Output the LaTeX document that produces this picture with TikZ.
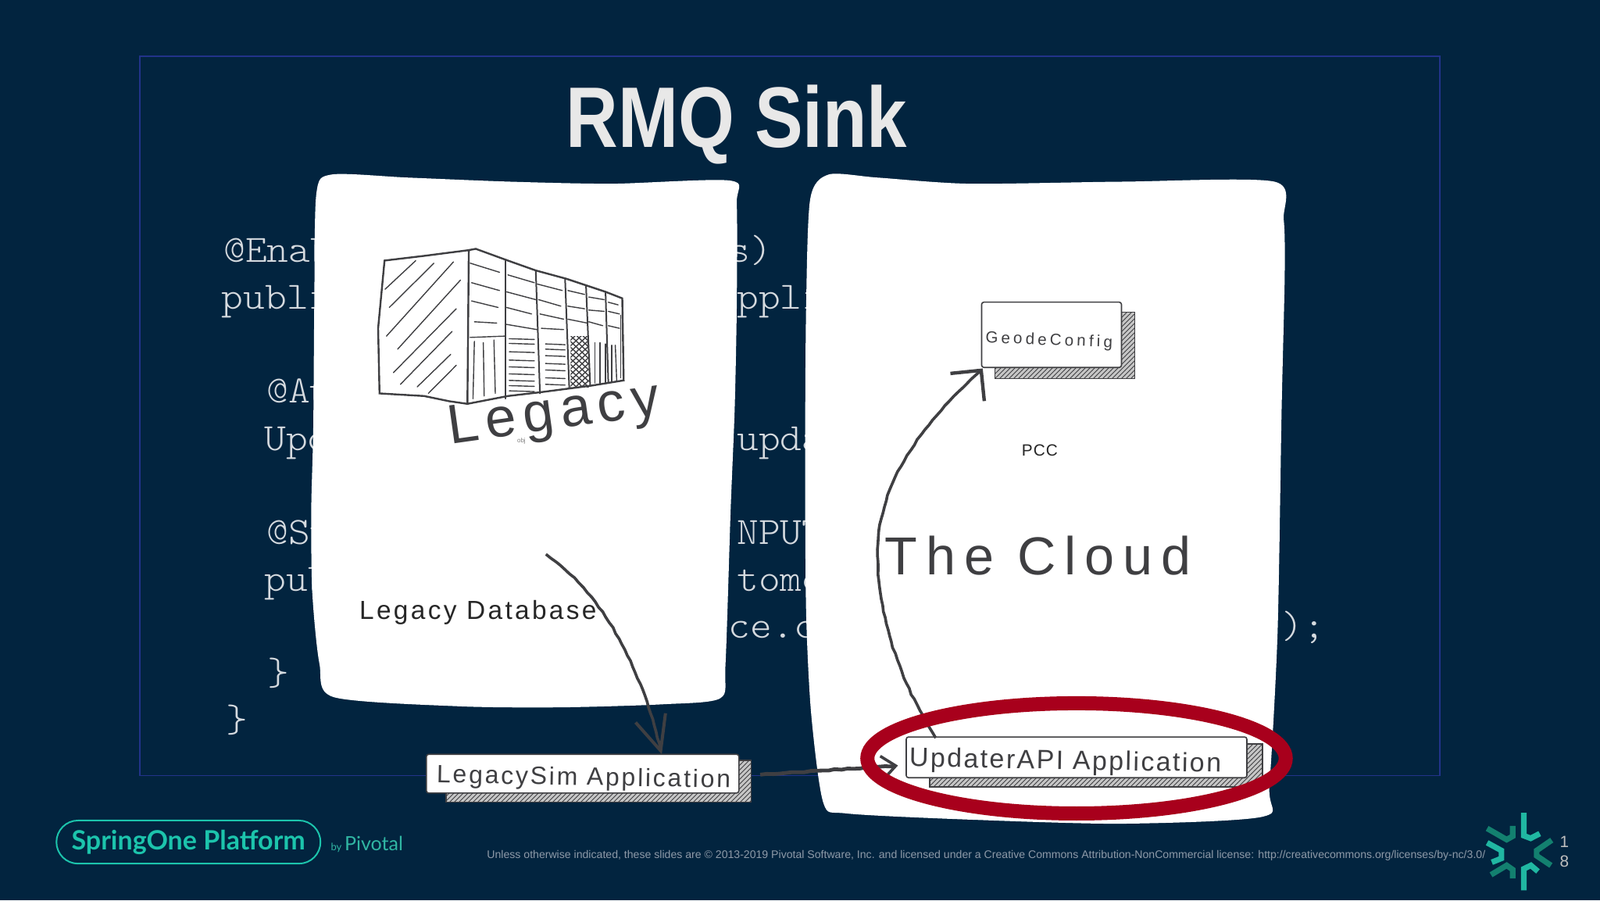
\documentclass[tikz,border=0pt]{standalone}
\usepackage{fontspec}
\setmainfont{Liberation Sans}
\newfontfamily\logofont{Lato}
\newfontfamily\codefont[FakeStretch=1.07]{Latin Modern Mono Light}
\usetikzlibrary{arrows.meta,patterns,decorations.pathmorphing}
\definecolor{slidebg}{HTML}{02243F}
\definecolor{framecol}{HTML}{22338A}
\definecolor{codecol}{HTML}{D5DADF}
\definecolor{inkcol}{HTML}{3F3F42}
\definecolor{ringcol}{HTML}{A8001C}
\definecolor{springcol}{HTML}{1CC4AC}
\definecolor{logodark}{HTML}{13806F}
\definecolor{logolight}{HTML}{20B7A2}
\definecolor{footcol}{HTML}{8E9AA8}
\tikzset{
  codetext/.style={anchor=base west,inner sep=0,text=codecol,font=\fontsize{24.7}{24.7}\selectfont\codefont},
  sheet/.style={fill=white},
  inkline/.style={draw=inkcol,line width=1pt,line cap=round},
  inkthin/.style={draw=inkcol,line width=.7pt,line cap=round},
  scrawl/.style={draw=inkcol,line width=1.8pt,decorate,decoration={random steps,segment length=4pt,amplitude=.35pt}},
  spaced/.style n args={2}{inner sep=0,text=inkcol,font=\fontsize{#1}{#1}\selectfont\addfontfeature{LetterSpace=#2}},
  appbox/.style={draw=inkcol,fill=white,line width=.8pt,rounded corners=1.5pt,inner sep=0},
  appshadow/.style={draw=inkcol,line width=.8pt,preaction={fill=gray!45},pattern=north east lines,pattern color=inkcol},
  logoarm/.style={line width=3.6pt,line join=miter},
}
\begin{document}
\begin{tikzpicture}[x=0.65306pt,y=-0.65306pt]
\useasboundingbox (0,0) rectangle (1568,882);
\fill[slidebg] (0,0) rectangle (1568,882);
\draw[framecol,line width=.7pt] (137,55) rectangle (1411,760);
\node[inner sep=0,text=white!91!black,xscale=.84,font=\fontsize{55}{55}\selectfont\bfseries] (title) at (722,122) {RMQ Sink};
% Code behind the sheets
\foreach \x/\y/\txt [count=\i] in {219/257/@Enab,714/257/s),217/303/publi,722/303/ppli,261/395/@Au,259/441/Upd,722/441/upda,261/533/@St,722/533/NPUT,259/579/pub,722/579/tome,714/625/ce.c,1256/625/);,262/671/\},221/717/\}}
  \node[codetext] (code\i) at (\x,\y) {\txt};
% Sheets
\fill[sheet] plot[smooth cycle,tension=.45] coordinates {(325,171) (310,190) (308,300) (307,420) (305,500) (306,580) (313,650) (327,683) (450,692) (550,693) (650,690) (706,684) (711,650) (716,500) (720,400) (722,300) (722,200) (716,177) (600,180) (500,178) (400,174)};
\fill[sheet] plot[smooth cycle,tension=.45] coordinates {(812,171) (794,195) (790,300) (789,450) (790,600) (795,700) (807,787) (830,797) (950,803) (1100,807) (1238,800) (1244,770) (1252,620) (1256,400) (1259,270) (1258,215) (1249,178) (1100,178) (950,180) (860,174)};
% Legacy building
\begin{scope}[shift={(306.3,168.5)},x=0.17858pt,y=-0.16668pt]
\draw[inkline,line width=1.2pt] (258,340) -- (400,322) -- (560,300) -- (555,890) -- (490,880) -- (400,860) -- (240,850) -- (235,600) -- cycle;
\draw[inkline,line width=1.2pt] (560,300) -- (585,295) -- (700,340) -- (800,378) -- (910,410) -- (980,435) -- (1050,460) -- (1110,485) -- (1115,800) -- (1000,820) -- (820,845) -- (700,860) -- (555,890);
\foreach \a/\b/\c/\d in {370/340/260/450,435/350/275/520,505/345/265/630,530/415/305/680,515/525/290/770,500/612/315/815,495/700/375/825,515/742/415/850}
  \draw[inkthin] (\a,\b) -- (\c,\d);
\foreach \a/\b/\c/\d in {690/340/690/870,800/378/815/850,905/410/920/830,980/435/995/820,1050/460/1060/810}
  \draw[inkline] (\a,\b) -- (\c,\d);
\foreach \a/\b/\c/\d in {565/350/670/385,570/425/670/455,570/495/665/520,580/575/660/580,565/635/690/630,700/395/795/425,695/460/800/490,695/520/785/545,695/585/805/605,805/430/895/455,810/490/890/515,815/545/900/565,820/600/900/605,915/455/975/470,915/515/975/525,915/565/985/580,990/480/1045/490,990/530/1045/535,990/575/1040/590,1060/500/1095/510,1060/535/1100/545,1060/590/1100/600}
  \draw[inkthin] (\a,\b) -- (\c,\d);
\foreach \a/\b/\c/\d in {580/650/575/870,612/655/615/860,650/645/655/850,1012/655/1012/810,1030/655/1030/815,1050/660/1050/810,1072/665/1072/805,1085/665/1090/800,1105/550/1105/790}
  \draw[inkthin] (\a,\b) -- (\c,\d);
\foreach \y in {640,658,690,722,748,775,800,820,840}
  \draw[inkthin] (705,\y) -- (795,\y+3);
\foreach \y in {660,680,705,735,760,790,815}
  \draw[inkthin] (835,\y) -- (905,\y+3);
\begin{scope}
\clip (925,630) rectangle (990,825);
\foreach \s in {0,22,...,400} {
  \draw[inkthin] (900,560+\s) -- (1010,670+\s);
  \draw[inkthin] (1010,560+\s) -- (900,670+\s);
}
\end{scope}
\end{scope}
\node[inner sep=0,text=gray,font=\fontsize{4}{4}\selectfont] (objlabel) at (511,432) {obj};
\node[spaced={35.5}{12.5},rotate=8,anchor=base west] (legacy) at (441,435) {Legacy};
\node[spaced={16.7}{10},text=black!85,anchor=base west] (legacydb) at (352,607) {Legacy Database};
\node[spaced={34.2}{16},anchor=base west] (cloud) at (867,563) {The Cloud};
\node[spaced={10.4}{5},text=black!85] (pcc) at (1019,441) {PCC};
% Application boxes
\draw[appshadow] (975,306) rectangle (1112,371);
\node[appbox,minimum width=89.5pt,minimum height=41.8pt] (geode) at (1030.5,328) {};
\node[spaced={10.3}{20},rotate=-2] (geodelabel) at (1028,334) {GeodeConfig};
\draw[appshadow] (437,745) rectangle (736,786);
\node[appbox,minimum width=200pt,minimum height=24.8pt] (legacysim) at (571,758) {};
\node[spaced={16}{8.6},rotate=-1] (legacysimlabel) at (572,763) {LegacySim Application};
\draw[appshadow] (911,729) rectangle (1237,771);
\node[appbox,minimum width=218pt,minimum height=26.1pt] (updater) at (1055,742) {};
\node[spaced={17}{7},rotate=-1] (updaterlabel) at (1044,747) {UpdaterAPI Application};
% Arrows
\coordinate (dbout) at (535,543);
\coordinate (legacyin) at (648.5,739);
\coordinate (legacyout) at (745,759);
\coordinate (updaterin) at (880,750);
\coordinate (updaterout) at (917,723);
\coordinate (geodein) at (963,361);
\draw[scrawl,-{Straight Barb[length=22pt,width=20pt,line width=2pt]}] (dbout) .. controls (595,585) and (630,660) .. (legacyin);
\draw[scrawl,line width=2.4pt,-{Straight Barb[length=9pt,width=15pt,line width=1.8pt]}] (legacyout) -- (updaterin);
\draw[scrawl,-{Straight Barb[length=14pt,width=28pt,line width=2.2pt]}] (updaterout) .. controls (880,665) and (860,600) .. (860,545) .. controls (860,470) and (905,415) .. (geodein);
\draw[ringcol,line width=9pt] (1055,743) ellipse (205 and 54);
% Footer
\node[draw=springcol,line width=1pt,rounded corners=13.8pt,minimum width=169pt,minimum height=27.6pt,inner sep=0] (pill) at (184.7,825) {};
\node[inner sep=0,text=springcol,font=\fontsize{17}{17}\selectfont\logofont\bfseries] (pilllabel) at (pill.center) {SpringOne Platform};
\node[inner sep=0,text=springcol!80!gray,anchor=base west,font=\fontsize{6.5}{6.5}\selectfont\logofont] (bylabel) at (324,833) {by};
\node[inner sep=0,text=springcol!80!gray,anchor=base west,font=\fontsize{12.5}{12.5}\selectfont\logofont] (pivotal) at (337.5,833) {Pivotal};
\node[inner sep=0,text=footcol,anchor=base west,font=\fontsize{7.05}{7.05}\selectfont] (notice) at (477,841) {Unless otherwise indicated, these slides are © 2013-2019 Pivotal Software, Inc. and licensed under a Creative Commons Attribution-NonCommercial license: http://creativecommons.org/licenses/by-nc/3.0/};
\begin{scope}[shift={(1424.2,781)},x=0.16668pt,y=-0.16668pt]
\draw[logoarm,logolight] (271,60) -- (271,148) -- (297,158) -- (332,140);
\draw[logoarm,logodark] (130,120) -- (205,163) -- (228,150) -- (228,110);
\draw[logoarm,logodark] (378,165) -- (320,205) -- (320,225) -- (375,262);
\draw[logoarm,logolight] (130,175) -- (185,205) -- (185,235) -- (148,250);
\draw[logoarm,logodark] (145,298) -- (205,262) -- (228,278) -- (228,312);
\draw[logoarm,logolight] (271,358) -- (271,275) -- (298,262) -- (325,285);
\end{scope}
\node[inner sep=0,text=gray!50!white,font=\fontsize{10.4}{10.4}\selectfont] (pageone) at (1533,825) {1};
\node[inner sep=0,text=gray!50!white,font=\fontsize{10.4}{10.4}\selectfont] (pageeight) at (1533,844) {8};
\end{tikzpicture}
\end{document}
